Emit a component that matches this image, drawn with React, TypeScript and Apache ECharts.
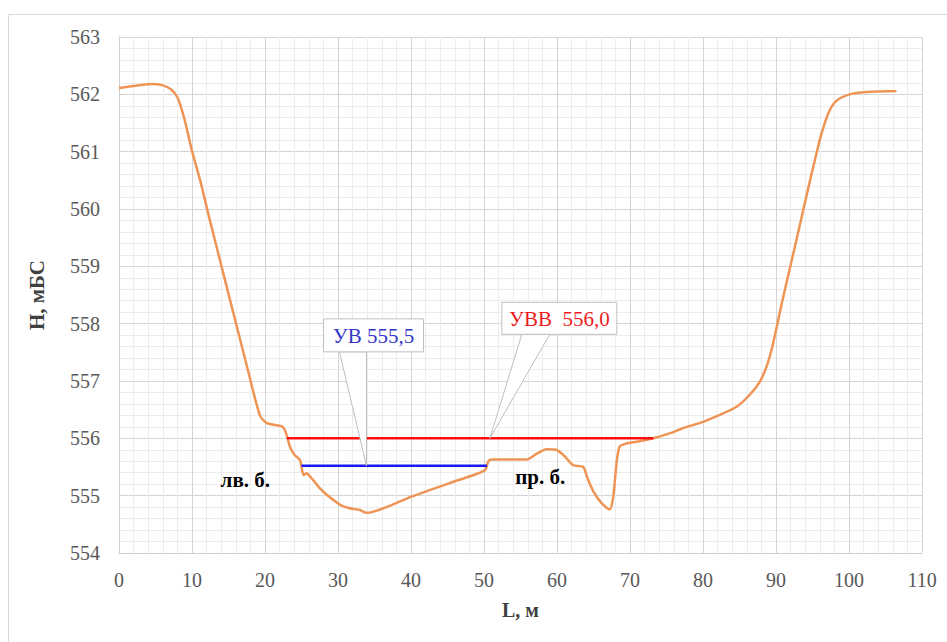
import React, { useEffect, useRef } from "react";
import * as echarts from "echarts";

const profileX = [0, 2.3, 4.6, 5.9, 7.1, 8.0, 8.9, 9.95, 11.2, 12.3, 15.2, 17.5, 19.3, 20.2, 21.5, 22.3, 22.7, 23.1, 23.4, 24.0, 24.8, 25.0, 25.3, 25.7, 26.2, 26.8, 27.5, 28.5, 30.3, 31.6, 33.0, 33.9, 40, 45.3, 50.1, 50.6, 51.1, 55.8, 57.2, 58.6, 59.9, 61.1, 62.2, 63.6, 64.1, 65.0, 66.1, 67.2, 67.7, 68.2, 68.6, 69.5, 70.9, 73.2, 75.5, 77.3, 79.6, 82.3, 84.6, 86.4, 87.8, 88.7, 89.4, 90.2, 90.8, 91.6, 92.6, 93.3, 94.0, 94.7, 95.6, 96.2, 97.2, 98.3, 100.1, 102.4, 106.5];
const profileH = [562.11, 562.15, 562.18, 562.16, 562.09, 561.95, 561.6, 561.04, 560.46, 559.88, 558.42, 557.27, 556.4, 556.27, 556.23, 556.21, 556.15, 556.0, 555.86, 555.72, 555.62, 555.5, 555.36, 555.39, 555.33, 555.24, 555.13, 555.01, 554.84, 554.78, 554.75, 554.7, 554.98, 555.22, 555.44, 555.6, 555.63, 555.63, 555.73, 555.81, 555.8, 555.68, 555.53, 555.5, 555.33, 555.07, 554.87, 554.76, 554.98, 555.62, 555.86, 555.91, 555.94, 556.0, 556.09, 556.18, 556.27, 556.41, 556.55, 556.76, 556.99, 557.25, 557.55, 558.0, 558.36, 558.8, 559.35, 559.74, 560.13, 560.52, 561.0, 561.3, 561.68, 561.89, 562.0, 562.04, 562.06];

const uvvX = [23.0, 73.2];
const uvvLevel = 556.0;
const uvX = [25.0, 50.4];
const uvLevel = 555.52;

const uvLabel = "УВ 555,5";
const uvvLabel = "УВВ  556,0";
const uvTipX = 33.9;
const uvvTipX = 50.8;

const leftBankLabel = "лв. б.";
const rightBankLabel = "пр. б.";
const leftBankPos = [17.3, 555.27];
const rightBankPos = [57.7, 555.32];

const xTitle = "L, м";
const yTitle = "H, мБС";

const FONT = "Liberation Serif";

export default function App() {
  const ref = useRef<HTMLDivElement>(null);
  useEffect(() => {
    const chart = echarts.init(ref.current!, null, { renderer: "svg" });
    const option: any = {
      animation: false,
      backgroundColor: "#ffffff",
      textStyle: { fontFamily: FONT },
      grid: { left: 119, top: 37, right: 25, bottom: 89, containLabel: false },
      xAxis: {
        type: "value",
        min: 0,
        max: 110,
        interval: 10,
        name: xTitle,
        nameLocation: "middle",
        nameGap: 47,
        nameTextStyle: { fontFamily: FONT, fontSize: 20, fontWeight: "bold", color: "#404040" },
        axisLine: { show: true, lineStyle: { color: "#d0d0d0", width: 1 } },
        axisTick: { show: false },
        axisLabel: { fontFamily: FONT, fontSize: 20, color: "#595959", margin: 17 },
        splitLine: { show: true, lineStyle: { color: "#d4d4d4", width: 1 } },
        minorTick: { show: false, splitNumber: 5 },
        minorSplitLine: { show: true, lineStyle: { color: "#ececec", width: 1 } },
      },
      yAxis: {
        type: "value",
        min: 554,
        max: 563,
        interval: 1,
        name: yTitle,
        nameLocation: "middle",
        nameGap: 72,
        nameRotate: 90,
        nameTextStyle: { fontFamily: FONT, fontSize: 21, fontWeight: "bold", color: "#404040" },
        axisLine: { show: true, lineStyle: { color: "#d0d0d0", width: 1 } },
        axisTick: { show: false },
        axisLabel: { fontFamily: FONT, fontSize: 20, color: "#595959", margin: 19 },
        splitLine: { show: true, lineStyle: { color: "#d4d4d4", width: 1 } },
        minorTick: { show: false, splitNumber: 5 },
        minorSplitLine: { show: true, lineStyle: { color: "#ececec", width: 1 } },
      },
      series: [
        {
          type: "line",
          data: profileX.map((x, i) => [x, profileH[i]]),
          smooth: 0.25,
          showSymbol: false,
          lineStyle: { color: "#ee9455", width: 2.5 },
          z: 2,
        },
        {
          type: "line",
          data: uvvX.map((x) => [x, uvvLevel]),
          showSymbol: false,
          lineStyle: { color: "#ff1010", width: 2.5 },
          z: 3,
        },
        {
          type: "line",
          data: uvX.map((x) => [x, uvLevel]),
          showSymbol: false,
          lineStyle: { color: "#1a1aee", width: 2.5 },
          z: 3,
        },
      ],
    };
    chart.setOption(option);

    const uvTip = chart.convertToPixel({ gridIndex: 0 }, [uvTipX, uvLevel]) as number[];
    const uvvTip = chart.convertToPixel({ gridIndex: 0 }, [uvvTipX, uvvLevel]) as number[];
    const lb = chart.convertToPixel({ gridIndex: 0 }, leftBankPos) as number[];
    const rb = chart.convertToPixel({ gridIndex: 0 }, rightBankPos) as number[];

    const callout = (tip: number[], box: number[], base: number[], text: string, color: string) => [
      {
        type: "polygon",
        z: 100,
        shape: {
          points: [
            [tip[0] + base[0], tip[1] + base[2]],
            [tip[0], tip[1]],
            [tip[0] + base[1], tip[1] + base[2]],
          ],
        },
        style: { fill: "#ffffff", stroke: "#bfbfbf", lineWidth: 1 },
      },
      {
        type: "rect",
        z: 101,
        shape: { x: tip[0] + box[0], y: tip[1] + box[1], width: box[2], height: box[3] },
        style: { fill: "#ffffff", stroke: "#bfbfbf", lineWidth: 1 },
      },
      {
        type: "text",
        z: 102,
        x: tip[0] + box[0] + box[2] / 2,
        y: tip[1] + box[1] + box[3] / 2 + 1,
        style: {
          text,
          fill: color,
          fontFamily: FONT,
          fontSize: 21,
          align: "center",
          verticalAlign: "middle",
        },
      },
    ];

    chart.setOption({
      graphic: [
        {
          type: "rect",
          z: 0,
          silent: true,
          shape: { x: 8.5, y: 14.5, width: 1000, height: 700 },
          style: { fill: "none", stroke: "#d9d9d9", lineWidth: 1 },
        },
        ...callout(uvTip, [-43, -147, 100, 33], [-27, 0, -114], uvLabel, "#3535c8"),
        ...callout(uvvTip, [12, -136, 115, 32], [32, 60, -104], uvvLabel, "#ee1c1c"),
        {
          type: "text",
          z: 102,
          x: lb[0],
          y: lb[1],
          style: { text: leftBankLabel, fill: "#000000", fontFamily: FONT, fontWeight: "bold", fontSize: 21, align: "center", verticalAlign: "middle" },
        },
        {
          type: "text",
          z: 102,
          x: rb[0],
          y: rb[1],
          style: { text: rightBankLabel, fill: "#000000", fontFamily: FONT, fontWeight: "bold", fontSize: 21, align: "center", verticalAlign: "middle" },
        },
      ],
    });
    return () => chart.dispose();
  }, []);
  return <div ref={ref} style={{ position: "fixed", left: 0, top: 0, width: 947, height: 642 }} />;
}
